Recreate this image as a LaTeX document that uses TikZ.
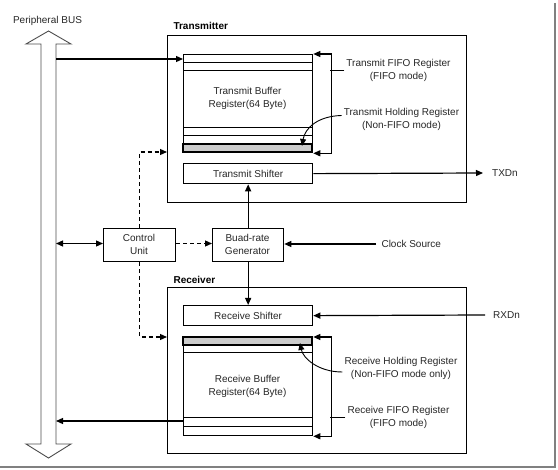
\documentclass[tikz,border=0pt]{standalone}
\usepackage{fontspec}
\setmainfont{Liberation Sans}
\usetikzlibrary{arrows.meta,calc}
\begin{document}
\begin{tikzpicture}[x=1pt,y=-1pt,
  every node/.style={font=\fontsize{10}{13}\selectfont, text=black!85},
  ttl/.style={font=\fontsize{10}{12}\selectfont\bfseries, anchor=west, text=black},
  box/.style={draw, line width=1.4pt, inner sep=0pt, anchor=north west},
  bufbox/.style={draw, line width=1.3pt, inner sep=0pt, anchor=north west},
  lbl/.style={align=center, inner sep=2pt},
  arr/.style={-{Triangle[length=7pt,width=6pt]}, line width=1.2pt},
  darr/.style={{Triangle[length=7pt,width=6pt]}-{Triangle[length=7pt,width=6pt]}, line width=1.2pt},
  dsh/.style={dash pattern=on 4pt off 3pt},
  band/.style={fill=gray!40, draw, line width=1.1pt},
  sep/.style={line width=1pt}
]
\useasboundingbox (0,0) rectangle (558,470);
% page shadow
\draw[black!50, line width=2pt] (555,3) -- (555,467) -- (0,467);

% peripheral bus
\node (bustxt) at (47.5,21) {Peripheral BUS};
\draw[black!70, line width=0.9pt] (41,444) -- (41,44) -- (26,44) -- (48.5,31) -- (71,44) -- (56,44)
  -- (56,444) -- (71,444) -- (48.5,458) -- (26,444) -- cycle;

% transmitter
\node[box, minimum width=299, minimum height=167] (tx) at (167,35) {};
\node[ttl] (txl) at (170,26) {Transmitter};
\draw[band] (183,144) rectangle (312,152);
\node[bufbox, minimum width=129, minimum height=98] (tbuf) at (183,54) {};
\foreach \yy in {63,71,128,136} \draw[sep] (183,\yy) -- (312,\yy);
\node[lbl] (tbuftxt) at (247.5,98.5) {Transmit Buffer\\Register(64 Byte)};
\node[bufbox, minimum width=129, minimum height=20] (tsh) at (183,163) {};
\node (tshtxt) at (tsh.center) {Transmit Shifter};

% labels transmitter side
\node[lbl] (tfifo) at (398.5,70.5) {Transmit FIFO Register\\(FIFO mode)};
\node[lbl] (thold) at (401.5,119.5) {Transmit Holding Register\\(Non-FIFO mode)};
\draw[darr] (tbuf.north east) -- ++(18,0) -- ([xshift=18pt]tbuf.south east) -- (tbuf.south east);
\coordinate (tbk) at (330,70.5);
\draw[line width=1.2pt] (tfifo.west) -- (tbk);
\coordinate (thg) at (302,146);
\draw[arr, line width=0.9pt] ([yshift=4pt]thold.west) .. controls (318,116) and (305,128) .. (thg);

% TXDn
\node[anchor=west, inner xsep=0pt] (txd) at (492,173) {TXDn};
\draw[arr] (tsh.east) -- ([xshift=-9pt]txd.west);

% control and baud
\node[box, line width=1.3pt, minimum width=72, minimum height=33] (ctrl) at (103,228) {};
\node[lbl] (ctrltxt) at (139,244) {Control\\Unit};
\node[box, line width=1.3pt, minimum width=71, minimum height=33] (baud) at (212,228) {};
\node[lbl] (baudtxt) at (247.5,244) {Buad-rate\\Generator};
\node[anchor=west] (clk) at (378,244) {Clock Source};

\coordinate (b1) at (56,59);
\coordinate (b2) at (56,243.5);
\coordinate (b3) at (56,421);
\draw[arr] (b1) -- (b1 -| tbuf.west);
\draw[darr] (b2) -- (b2 -| ctrl.west);
\draw[arr, dsh] (ctrl.east |- b2) -- (baud.west |- b2);
\draw[arr] ([xshift=-2pt]clk.west) -- (clk.west -| baud.east);
\draw[arr] (baud.north) -- (tsh.south);

% receiver
\node[box, minimum width=299, minimum height=166] (rx) at (167,287) {};
\node[ttl] (rxl) at (170,280) {Receiver};
\node[bufbox, minimum width=129, minimum height=20] (rsh) at (183,305) {};
\node (rshtxt) at (rsh.center) {Receive Shifter};
\draw[band] (183,337) rectangle (312,345);
\node[bufbox, minimum width=129, minimum height=98] (rbuf) at (183,337) {};
\foreach \yy in {353,418,427} \draw[sep] (183,\yy) -- (312,\yy);
\node[lbl] (rbuftxt) at (247.5,386.5) {Receive Buffer\\Register(64 Byte)};
\draw[arr] (baud.south) -- (rsh.north);

\node[lbl] (rhold) at (401,368.5) {Receive Holding Register\\(Non-FIFO mode only)};
\node[lbl] (rfifo) at (398.5,417.5) {Receive FIFO Register\\(FIFO mode)};
\draw[darr] (rbuf.north east) -- ++(18,0) -- ([xshift=18pt]rbuf.south east) -- (rbuf.south east);
\coordinate (rbk) at (330,417.5);
\draw[line width=1.2pt] (rfifo.west) -- (rbk);
\coordinate (rhg) at (300,343);
\draw[arr, line width=0.9pt] ([yshift=-3.5pt]rhold.west) .. controls (318,372) and (303,358) .. (rhg);

\node[anchor=west, inner xsep=0pt] (rxd) at (493,315) {RXDn};
\draw[arr] ([xshift=-8pt]rxd.west) -- (rsh.east);

\draw[arr] (b3 -| rbuf.west) -- (b3);

% dashed control lines
\coordinate (d1) at (167,152);
\coordinate (d2) at (167,337);
\draw[arr, dsh] (ctrl.north) |- (d1);
\draw[arr, dsh] (ctrl.south) |- (d2);
\end{tikzpicture}
\end{document}
